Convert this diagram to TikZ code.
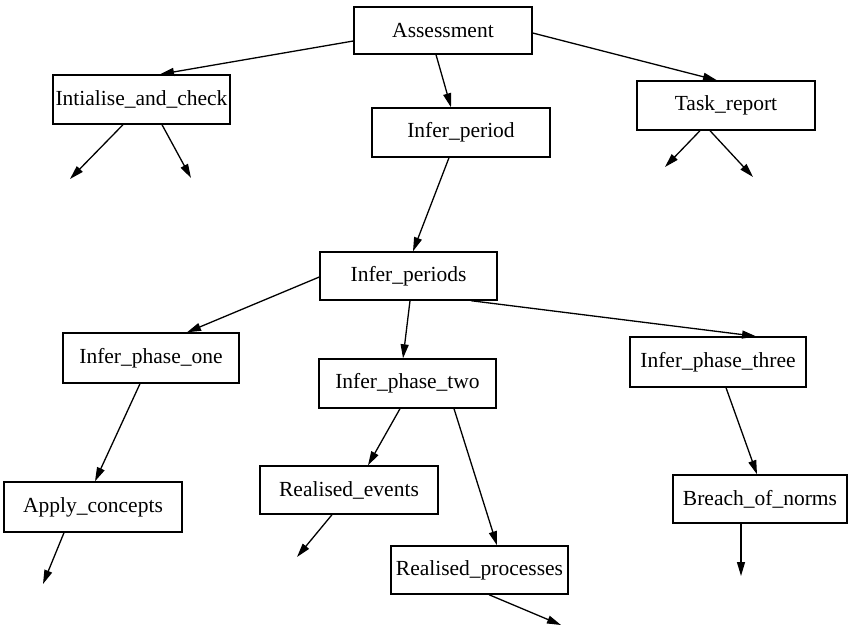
\documentclass[tikz,border=0pt]{standalone}
\usepackage{fontspec}
\setmainfont{Liberation Serif}
\usetikzlibrary{arrows.meta}
\begin{document}
\begin{tikzpicture}[x=1pt,y=-1pt,
  box/.style={draw,line width=1.4pt,inner sep=0pt,minimum height=49pt,font=\fontsize{21.5}{24}\selectfont},
  edge/.style={line width=1.3pt,-{Triangle[length=14pt,width=8pt]}}]
\useasboundingbox (0,0) rectangle (848,627);
\node[box,minimum width=178pt,minimum height=47pt] (A) at (443,30.5) {Assessment};
\node[box,minimum width=177pt] (I) at (141.5,99.5) {Intialise\_and\_check};
\node[box,minimum width=178pt] (P) at (461,132.5) {Infer\_period};
\node[box,minimum width=178pt] (T) at (726,105.5) {Task\_report};
\node[box,minimum width=177pt,minimum height=48pt] (PS) at (408.5,276) {Infer\_periods};
\node[box,minimum width=176pt,minimum height=50pt] (P1) at (151,358) {Infer\_phase\_one};
\node[box,minimum width=177pt] (P2) at (407.5,383.5) {Infer\_phase\_two};
\node[box,minimum width=176pt,minimum height=50pt] (P3) at (718,362) {Infer\_phase\_three};
\node[box,minimum width=178pt,minimum height=50pt] (AC) at (93,507) {Apply\_concepts};
\node[box,minimum width=178pt,minimum height=48pt] (RE) at (349,490) {Realised\_events};
\node[box,minimum width=177pt,minimum height=48pt] (RP) at (479.5,570) {Realised\_processes};
\node[box,minimum width=174pt,minimum height=48pt] (BN) at (760,499) {Breach\_of\_norms};
\coordinate (i1) at (70,179);
\coordinate (i2) at (191,178);
\coordinate (t1) at (665,167);
\coordinate (t2) at (753,177);
\coordinate (ac1) at (43,584);
\coordinate (re1) at (297,557);
\coordinate (rp1) at (561,625);
\coordinate (bn1) at (741,576);
\draw[edge] ([yshift=-10.5pt]A.west) -- ([xshift=18.5pt]I.north);
\draw[edge] ([xshift=-7pt]A.south) -- ([xshift=-10pt]P.north);
\draw[edge] ([yshift=-2.5pt]A.east) -- ([xshift=-9pt]T.north);
\draw[edge] ([xshift=-18.5pt]I.south) -- (i1);
\draw[edge] ([xshift=20.5pt]I.south) -- (i2);
\draw[edge] ([xshift=-26pt]T.south) -- (t1);
\draw[edge] ([xshift=-16pt]T.south) -- (t2);
\draw[edge] ([xshift=-12pt]P.south) -- ([xshift=4.5pt]PS.north);
\draw[edge] ([yshift=-1pt]PS.west) -- ([xshift=36pt]P1.north);
\draw[edge] ([xshift=1.5pt]PS.south) -- ([xshift=-4.5pt]P2.north);
\draw[edge] ([xshift=62.5pt]PS.south) -- ([xshift=38pt]P3.north);
\draw[edge] ([xshift=-11pt]P1.south) -- ([xshift=2pt]AC.north);
\draw[edge] ([xshift=-29pt]AC.south) -- (ac1);
\draw[edge] ([xshift=-7.5pt]P2.south) -- ([xshift=19pt]RE.north);
\draw[edge] ([xshift=-17pt]RE.south) -- (re1);
\draw[edge] ([xshift=46.5pt]P2.south) -- ([xshift=17.5pt]RP.north);
\draw[edge] ([xshift=9.5pt]RP.south) -- (rp1);
\draw[edge] ([xshift=8pt]P3.south) -- ([xshift=-3pt]BN.north);
\draw[edge] ([xshift=-19pt]BN.south) -- (bn1);
\end{tikzpicture}
\end{document}
